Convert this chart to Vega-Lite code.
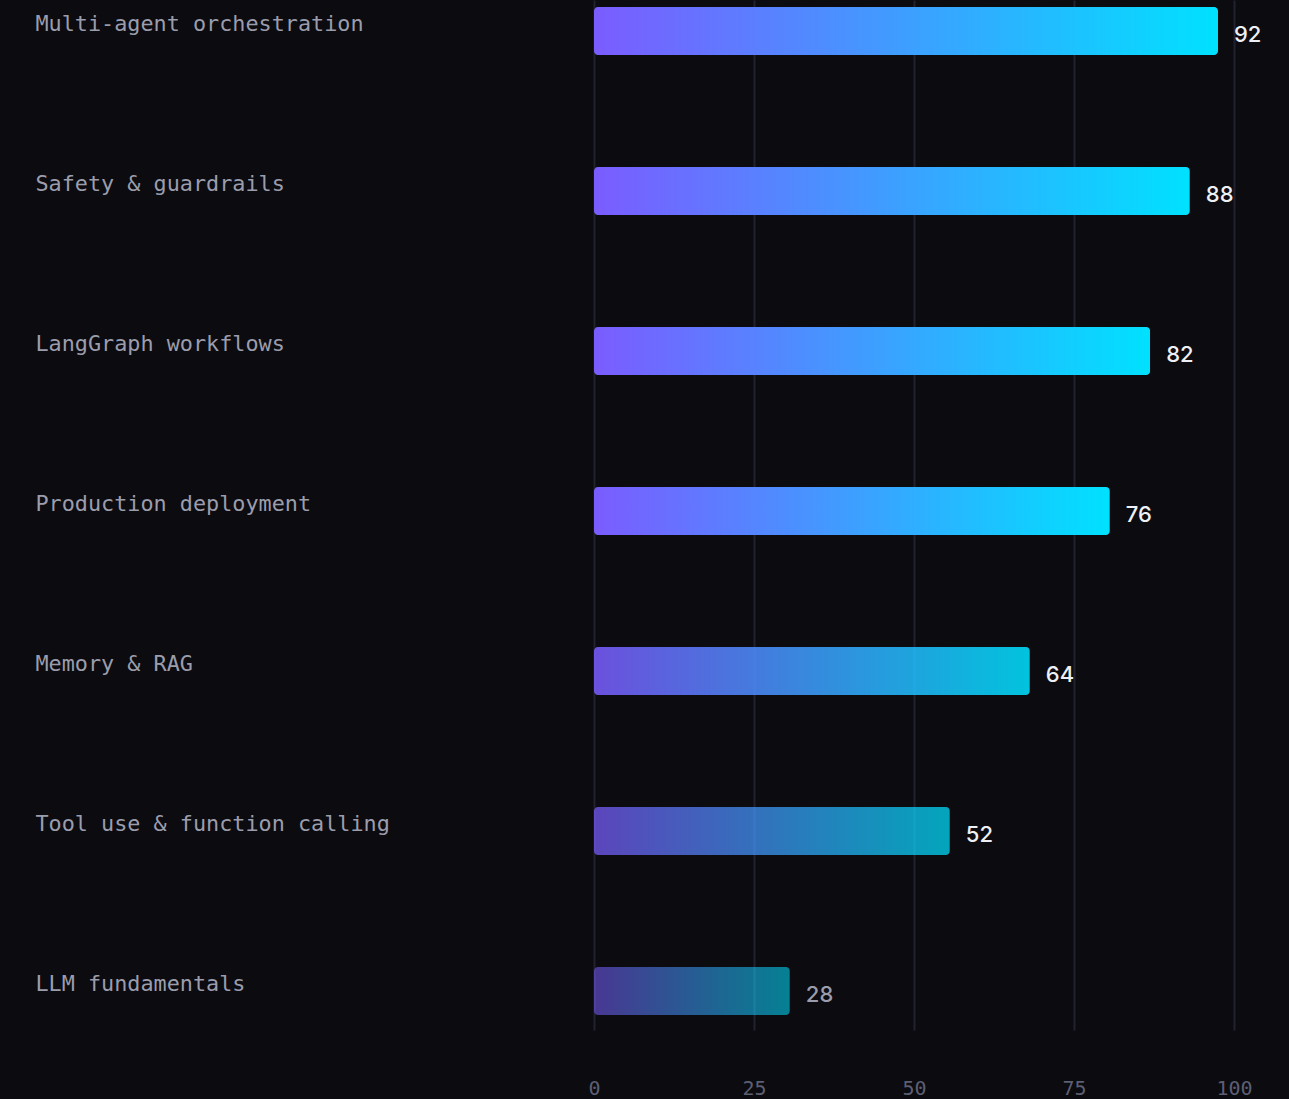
{
  "$schema": "https://vega.github.io/schema/vega-lite/v6.json",
  "autosize": {"type": "none"},
  "width": 640,
  "height": 1030,
  "padding": {"left": 594, "top": 0, "right": 55, "bottom": 69},
  "background": "#0b0b10",
  "config": {
    "view": {"stroke": null},
    "axis": {"labelFont": "DejaVu Sans Mono"}
  },
  "data": {
    "values": [
      {"skill": "Multi-agent orchestration", "score": 92, "bar": 97.5},
      {"skill": "Safety & guardrails", "score": 88, "bar": 93.1},
      {"skill": "LangGraph workflows", "score": 82, "bar": 86.9},
      {"skill": "Production deployment", "score": 76, "bar": 80.6},
      {"skill": "Memory & RAG", "score": 64, "bar": 68.1},
      {"skill": "Tool use & function calling", "score": 52, "bar": 55.6},
      {"skill": "LLM fundamentals", "score": 28, "bar": 30.6}
    ]
  },
  "encoding": {
    "y": {
      "field": "skill",
      "type": "nominal",
      "sort": null,
      "scale": {"paddingInner": 0.7, "paddingOuter": 0.06875, "align": 0.318},
      "axis": {
        "title": null,
        "domain": false,
        "ticks": false,
        "tickSize": 0,
        "grid": false,
        "labelAlign": "left",
        "labelBaseline": "middle",
        "labelPadding": 559,
        "labelOffset": -7,
        "labelLimit": 0,
        "labelFontSize": 21.8,
        "labelColor": "#9b9dac"
      }
    }
  },
  "layer": [
    {
      "mark": {
        "type": "bar",
        "cornerRadius": 4,
        "color": {
          "gradient": "linear",
          "x1": 0, "y1": 0, "x2": 1, "y2": 0,
          "stops": [
            {"offset": 0, "color": "#7b5cff"},
            {"offset": 1, "color": "#00e1ff"}
          ]
        }
      },
      "encoding": {
        "x": {
          "field": "bar",
          "type": "quantitative",
          "scale": {"domain": [0, 100], "nice": false},
          "axis": {
            "title": null,
            "values": [0, 25, 50, 75, 100],
            "domain": false,
            "ticks": false,
            "tickSize": 0,
            "grid": true,
            "gridColor": "#202232",
            "gridWidth": 2,
            "labelPadding": 48,
            "labelFontSize": 20,
            "labelColor": "#5c5f72",
            "labelFlush": false
          }
        },
        "opacity": {
          "field": "score",
          "type": "quantitative",
          "scale": {"type": "threshold", "domain": [40, 60, 70], "range": [0.55, 0.72, 0.86, 1]},
          "legend": null
        }
      }
    },
    {
      "mark": {
        "type": "text",
        "align": "left",
        "baseline": "middle",
        "dx": 16,
        "dy": 4,
        "font": "Inter",
        "fontSize": 22,
        "fontWeight": 500
      },
      "encoding": {
        "x": {"field": "bar", "type": "quantitative"},
        "text": {"field": "score", "type": "quantitative"},
        "color": {
          "condition": {"test": "datum.score < 40", "value": "#9b9dac"},
          "value": "#eef0f5"
        }
      }
    }
  ]
}
